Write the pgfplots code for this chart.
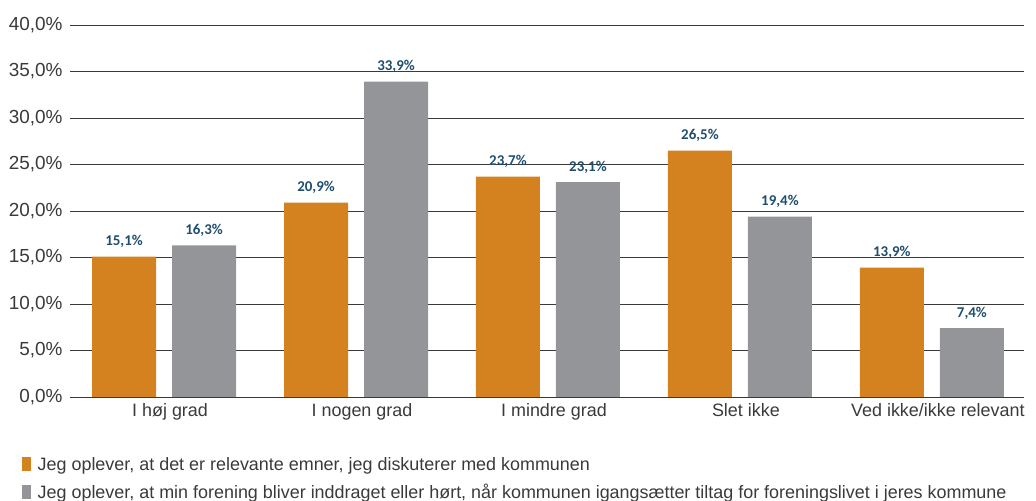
\documentclass[border=0pt]{standalone}
\usepackage{pgfplots}
\pgfplotsset{compat=1.18}
\usepackage{fontspec}
\setmainfont{Liberation Sans}
\newfontfamily\labfont{Carlito}
\definecolor{cOrange}{HTML}{D4821F}
\definecolor{cGray}{HTML}{939598}
\definecolor{cLab}{HTML}{1F4E6E}
\definecolor{cText}{HTML}{3A3A3A}
\definecolor{cGrid}{HTML}{3A3A3A}
\begin{document}
\begin{tikzpicture}
\begin{axis}[
  at={(70bp,104bp)}, anchor=south west,
  scale only axis, width=954bp, height=372bp,
  ybar=16bp, bar width=64bp,
  xmin=-0.49, xmax=4.48,
  ymin=0, ymax=40,
  ytick={0,5,...,40},
  xtick={0,1,2,3,4},
  xticklabels={I høj grad, I nogen grad, I mindre grad, Slet ikke, Ved ikke/ikke relevant},
  x tick label style={font=\fontsize{18}{20}\selectfont, text=cText, xshift=6bp, yshift=-3bp},
  y tick label style={font=\fontsize{19}{21}\selectfont, text=cText, xshift=-4bp},
  /pgf/number format/assume math mode=true,
  yticklabel={\pgfmathprintnumber[fixed,fixed zerofill,precision=1,use comma]{\tick}\%},
  major tick length=0pt,
  axis line style={draw=none},
  ymajorgrids, grid style={cGrid, line width=0.8bp},
  nodes near coords={\pgfmathprintnumber[fixed,fixed zerofill,precision=1,use comma]{\pgfplotspointmeta}\%},
  every node near coord/.append style={font=\labfont\bfseries\fontsize{15}{17}\selectfont, text=cLab, anchor=base, yshift=11bp, inner sep=0pt},
  legend style={at={(-48bp,-58bp)}, anchor=north west, draw=none, fill=none,
    font=\fontsize{18}{21}\selectfont, text=cText, row sep=8bp, inner sep=0pt,
    /tikz/every odd column/.append style={column sep=4.5bp}},
  legend cell align=left,
  legend image code/.code={\fill[#1] (0bp,-7bp) rectangle (9bp,7bp);},
  clip=false,
]
\addplot[fill=cOrange, draw=none] coordinates {(0,15.1) (1,20.9) (2,23.7) (3,26.5) (4,13.9)};
\addplot[fill=cGray, draw=none] coordinates {(0,16.3) (1,33.9) (2,23.1) (3,19.4) (4,7.4)};
\legend{{Jeg oplever, at det er relevante emner, jeg diskuterer med kommunen}, {Jeg oplever, at min forening bliver inddraget eller hørt, når kommunen igangsætter tiltag for foreningslivet i jeres kommune}}
\end{axis}
\pgfresetboundingbox
\path[use as bounding box] (0,0) rectangle (1036bp,501bp);
\end{tikzpicture}
\end{document}
